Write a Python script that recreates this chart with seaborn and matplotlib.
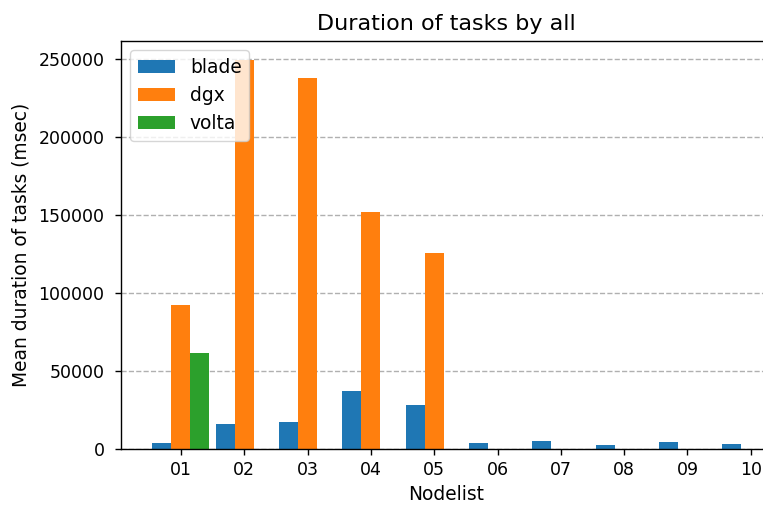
import matplotlib
matplotlib.use("Agg")
import matplotlib.pyplot as plt
import seaborn as sns
import pandas as pd

# Mean task duration (msec) per node, split by cluster
nodes = ["01", "02", "03", "04", "05", "06", "07", "08", "09", "10"]
clusters = ["blade", "dgx", "volta"]
blade = [4100, 16000, 17300, 37200, 27900, 4100, 5100, 2800, 4300, 3200]
dgx = [92400, 249000, 238000, 151700, 125400]
volta = [61800]

rows = []
for node, val in zip(nodes, blade):
    rows.append({"Nodelist": node, "cluster": "blade", "duration": val})
for node, val in zip(nodes, dgx):
    rows.append({"Nodelist": node, "cluster": "dgx", "duration": val})
for node, val in zip(nodes, volta):
    rows.append({"Nodelist": node, "cluster": "volta", "duration": val})
df = pd.DataFrame(rows)

scale = 1.25
plt.rcParams.update({
    "font.family": ["DejaVu Sans"],
    "font.size": 13.4,
    "xtick.labelsize": 12.5,
    "ytick.labelsize": 12.5,
    "axes.linewidth": 0.8 * scale,
    "xtick.major.width": 0.8 * scale,
    "ytick.major.width": 0.8 * scale,
    "xtick.major.size": 3.5 * scale,
    "ytick.major.size": 3.5 * scale,
    "xtick.major.pad": 3.5 * scale,
    "ytick.major.pad": 7.5,
})

fig = plt.figure(figsize=(7.63, 5.05), dpi=100)
ax = fig.add_axes([0.1586, 0.111, 0.852, 0.808])

palette = {"blade": "#1f77b4", "dgx": "#ff7f0e", "volta": "#2ca02c"}
sns.barplot(
    data=df, x="Nodelist", y="duration", hue="cluster",
    order=nodes, hue_order=clusters, palette=palette,
    width=0.9, saturation=1, errorbar=None, linewidth=0, ax=ax,
)

ax.set_xlim(-0.945, 9.32)
ax.set_ylim(0, 261500)
ax.set_axisbelow(True)
ax.yaxis.grid(True, linestyle="--", color="#b0b0b0", linewidth=0.8 * scale)
ax.xaxis.grid(False)
ax.spines["right"].set_visible(False)

ax.set_title("Duration of tasks by all", fontsize=16, pad=6 * scale)
ax.set_xlabel("Nodelist", labelpad=4)
ax.set_ylabel("Mean duration of tasks (msec)", labelpad=6)
ax.legend(loc="upper left", framealpha=0.8)

fig.savefig("out.png", dpi=100)
